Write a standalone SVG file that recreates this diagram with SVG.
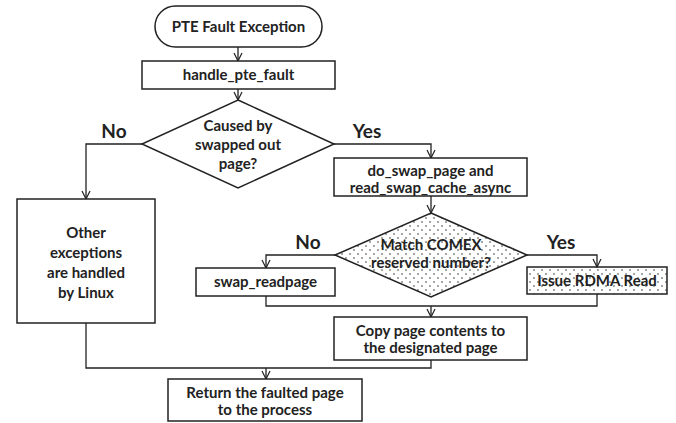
<svg xmlns="http://www.w3.org/2000/svg" width="676" height="423" viewBox="0 0 676 423">
  <defs>
    <marker id="arrow" viewBox="0 0 10 10" refX="9" refY="5" markerWidth="10" markerHeight="10" markerUnits="userSpaceOnUse" orient="auto">
      <path d="M1,1 L9,5 L1,9" fill="none" stroke="#222" stroke-width="1.2"/>
    </marker>
    <pattern id="dots" width="8" height="8" patternUnits="userSpaceOnUse">
      <circle cx="2" cy="2" r="0.8" fill="#333"/>
      <circle cx="6" cy="6" r="0.8" fill="#333"/>
    </pattern>
    <style>
      .box { fill: #fff; stroke: #222; stroke-width: 1.5; }
      .dotted { fill: url(#dots); stroke: #222; stroke-width: 1.5; }
      .edge { fill: none; stroke: #222; stroke-width: 1.3; }
      .arr { marker-end: url(#arrow); }
      text { font-family: Lato, "Liberation Sans", sans-serif; font-weight: bold; font-size: 15px; fill: #222; text-anchor: middle; }
      .lbl { font-size: 19px; }
    </style>
  </defs>

  <!-- connectors -->
  <g id="connectors">
    <path class="edge arr" d="M238,47 V61"/>
    <path class="edge arr" d="M238,89 V100"/>
    <path class="edge arr" d="M142,144 H86 V199"/>
    <path class="edge arr" d="M334,144 H431 V158"/>
    <path class="edge arr" d="M431,196 V213"/>
    <path class="edge arr" d="M335,255 H266 V268"/>
    <path class="edge arr" d="M527,255 H597 V267"/>
    <path class="edge" d="M266,296 V306 H597 V294"/>
    <path class="edge arr" d="M431,306 V317"/>
    <path class="edge" d="M86,323 V368 H431 V360"/>
    <path class="edge arr" d="M266,368 V379"/>
    <text class="lbl" x="114" y="138">No</text>
    <text class="lbl" x="367" y="138">Yes</text>
    <text class="lbl" x="308" y="249">No</text>
    <text class="lbl" x="561" y="249">Yes</text>
  </g>

  <g id="start">
    <rect class="box" x="155" y="6" width="167" height="41" rx="20.5"/>
    <text x="238.5" y="32">PTE Fault Exception</text>
  </g>

  <g id="handle">
    <rect class="box" x="142" y="61" width="193" height="28"/>
    <text x="238.5" y="80">handle_pte_fault</text>
  </g>

  <g id="swapped">
    <polygon class="box" points="238,100 334,144 238,188 142,144"/>
    <text x="238" y="131">Caused by</text>
    <text x="238" y="150">swapped out</text>
    <text x="238" y="169">page?</text>
  </g>

  <g id="other">
    <rect class="box" x="17" y="199" width="138" height="124"/>
    <text x="86" y="238">Other</text>
    <text x="86" y="258">exceptions</text>
    <text x="86" y="278">are handled</text>
    <text x="86" y="298">by Linux</text>
  </g>

  <g id="doswap">
    <rect class="box" x="334" y="158" width="193" height="38"/>
    <text x="430.5" y="176">do_swap_page and</text>
    <text x="430.5" y="193">read_swap_cache_async</text>
  </g>

  <g id="comex">
    <polygon class="dotted" points="431,213 527,255 431,297 335,255"/>
    <text x="431" y="250">Match COMEX</text>
    <text x="431" y="268">reserved number?</text>
  </g>

  <g id="readpage">
    <rect class="box" x="196" y="268" width="139" height="28"/>
    <text x="265.5" y="287">swap_readpage</text>
  </g>

  <g id="rdma">
    <rect class="dotted" x="527" y="267" width="140" height="27"/>
    <text x="597" y="286">Issue RDMA Read</text>
  </g>

  <g id="copy">
    <rect class="box" x="334" y="317" width="193" height="43"/>
    <text x="430.5" y="336">Copy page contents to</text>
    <text x="430.5" y="353">the designated page</text>
  </g>

  <g id="return">
    <rect class="box" x="168" y="379" width="194" height="42"/>
    <text x="265" y="398">Return the faulted page</text>
    <text x="265" y="415">to the process</text>
  </g>
</svg>
